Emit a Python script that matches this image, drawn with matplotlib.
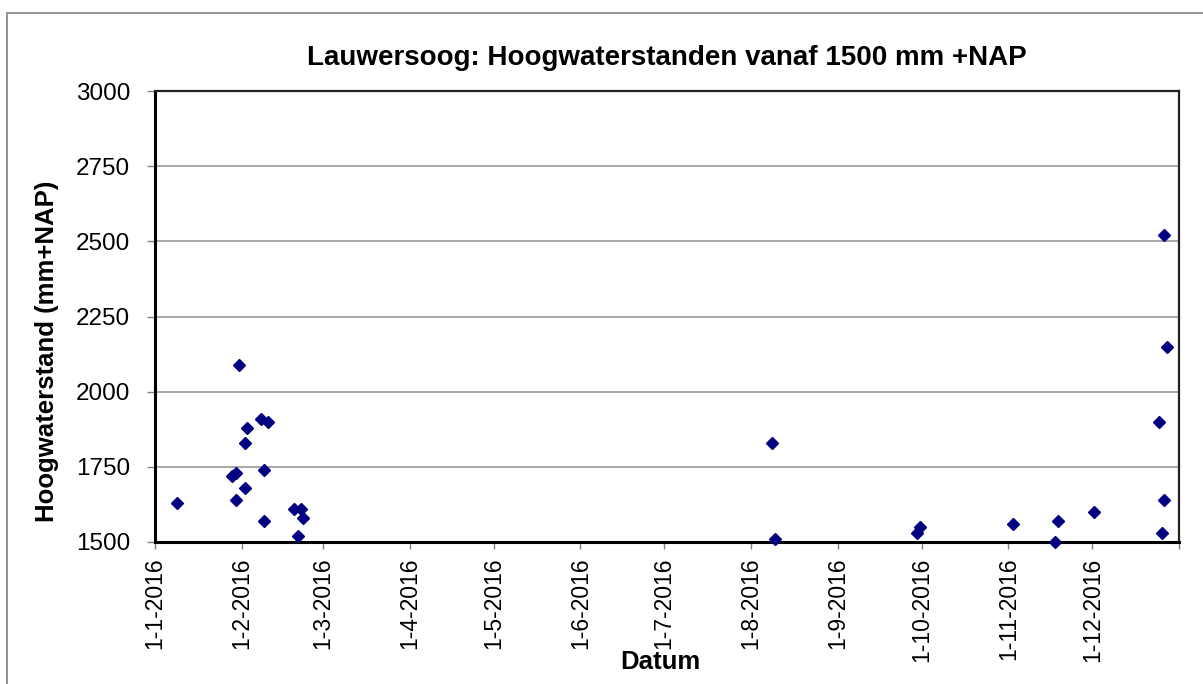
import matplotlib
matplotlib.use("Agg")
import matplotlib.pyplot as plt
import pandas as pd
from matplotlib.patches import Rectangle

plt.rcParams['font.family'] = ['Liberation Sans', 'DejaVu Sans']

# high water readings (date/time, level in mm +NAP)
dates = [
    "2016-01-08 18:00", "2016-01-28 12:00", "2016-01-30 00:00", "2016-01-30 00:00",
    "2016-01-31 00:00", "2016-02-02 00:00", "2016-02-02 00:00", "2016-02-02 20:00",
    "2016-02-07 22:00", "2016-02-10 06:00", "2016-02-09 00:00", "2016-02-09 00:00",
    "2016-02-19 20:00", "2016-02-22 06:00", "2016-02-23 00:00", "2016-02-21 02:00",
    "2016-08-08 10:00", "2016-08-09 12:00", "2016-09-30 12:00", "2016-09-29 12:00",
    "2016-11-02 16:00", "2016-11-18 18:00", "2016-11-17 14:00", "2016-12-01 16:00",
    "2016-12-24 20:00", "2016-12-26 16:00", "2016-12-27 20:00", "2016-12-26 16:00",
    "2016-12-25 22:00",
]
levels = [
    1630, 1720, 1730, 1640,
    2090, 1830, 1680, 1880,
    1910, 1900, 1740, 1570,
    1610, 1610, 1580, 1520,
    1830, 1510, 1550, 1530,
    1560, 1570, 1500, 1600,
    1900, 2520, 2150, 1640,
    1530,
]
month_ticks = pd.date_range("2016-01-01", "2017-01-01", freq="MS")
month_labels = ["1-%d-2016" % m for m in range(1, 13)] + [""]
y_ticks = [1500, 1750, 2000, 2250, 2500, 2750, 3000]

W, H = 1203, 684
fig = plt.figure(figsize=(W / 100, H / 100), dpi=100)
ax = fig.add_axes([155 / W, 1 - 542 / H, (1179 - 155) / W, (542 - 91) / H])

x = pd.to_datetime(dates)
ax.plot(x, levels, linestyle="none", marker="D", markersize=6.6,
        color="#000080", markeredgecolor="#000080", clip_on=False, zorder=3)

ax.set_xlim(pd.Timestamp("2016-01-01"), pd.Timestamp("2017-01-01"))
ax.set_ylim(1500, 3000)
ax.set_xticks(month_ticks)
ax.set_xticklabels(month_labels, rotation=90, fontsize=16.5)
ax.set_yticks(y_ticks)
ax.set_yticklabels([str(v) for v in y_ticks], fontsize=17.5)

ax.yaxis.grid(True, color="#a0a0a0", linewidth=1.3)
ax.set_axisbelow(True)
ax.tick_params(axis="y", direction="out", length=6, width=1, color="#808080", pad=12)
ax.tick_params(axis="x", direction="out", length=5, width=1, color="#808080", pad=6)

for side in ["left", "bottom"]:
    ax.spines[side].set_linewidth(2.2)
    ax.spines[side].set_color("black")
for side in ["top", "right"]:
    ax.spines[side].set_linewidth(1.6)
    ax.spines[side].set_color("#222222")

# titles placed in pixel positions
fig.text(667 / W, 1 - 58 / H, "Lauwersoog: Hoogwaterstanden vanaf 1500 mm +NAP",
         fontsize=20, fontweight="bold", ha="center", va="center")
fig.text(47 / W, 1 - 351 / H, "Hoogwaterstand (mm+NAP)", rotation=90,
         fontsize=18.5, fontweight="bold", ha="center", va="center")
fig.text(660 / W, 1 - 662 / H, "Datum",
         fontsize=18.5, fontweight="bold", ha="center", va="center")

# outer chart border (only left and top visible in the picture)
fig.patches.append(Rectangle((7 / W, -0.1), 1.2, 1 - 13 / H + 0.1,
                             transform=fig.transFigure, fill=False,
                             edgecolor="#808080", linewidth=1.2))

fig.savefig("out.png", dpi=100)
